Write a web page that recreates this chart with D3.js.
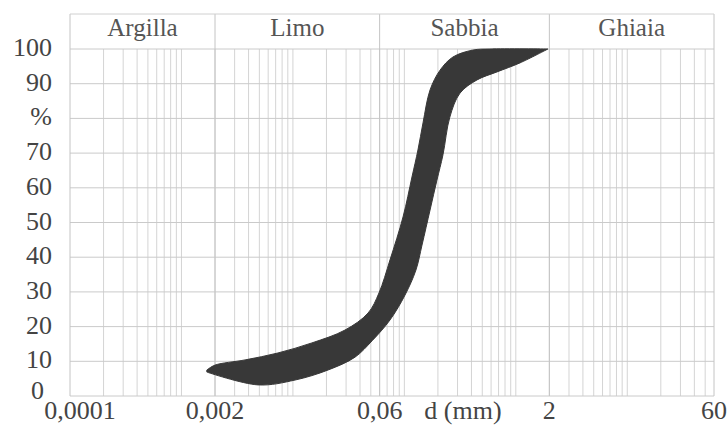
<!DOCTYPE html>
<html>
<head>
<meta charset="utf-8">
<script src="https://cdn.jsdelivr.net/npm/d3@7"></script>
<style>
  body { margin: 0; background: #fff; }
  svg { display: block; }
  .lbl { font-family: 'Liberation Serif', Tinos, 'Times New Roman', Times, 'DejaVu Serif', serif; font-size: 26px; fill: #444; }
  .head { font-family: 'Liberation Serif', Tinos, 'Times New Roman', Times, 'DejaVu Serif', serif; font-size: 25px; fill: #555; }
</style>
</head>
<body>
<svg id="chart" width="727" height="425"></svg>
<script>
// grain size classes (header) and their limits in mm
const classes = ['Argilla', 'Limo', 'Sabbia', 'Ghiaia'];
const classLimits = [0.0001, 0.002, 0.06, 2, 60];
const xTickLabels = ['0,0001', '0,002', '0,06', '2', '60'];

const yTicks = [0, 10, 20, 30, 40, 50, 60, 70, 80, 90, 100];
const yTickLabels = ['0', '10', '20', '30', '40', '50', '60', '70', '%', '90', '100'];

// band of grading curves: finer boundary (top/left edge)
const fineD = [0.00169, 0.0020, 0.00372, 0.00734, 0.0148, 0.0293, 0.0472, 0.0592, 0.0743, 0.0973, 0.117, 0.1324, 0.147, 0.170, 0.209, 0.273, 0.413, 0.586, 1.94];
const fineP = [7.5, 8.9, 10.4, 12.4, 15.3, 19.0, 23.9, 29.7, 39.2, 51.6, 63.1, 70.9, 78.7, 88.2, 93.9, 97.7, 99.7, 100, 100];

// coarser boundary (bottom/right edge)
const coarseD = [0.00169, 0.00486, 0.01045, 0.0207, 0.0361, 0.0513, 0.0743, 0.1014, 0.127, 0.144, 0.170, 0.196, 0.222, 0.256, 0.316, 0.449, 0.678, 1.09, 1.94];
const coarseP = [6.9, 3.2, 4.6, 7.5, 11.2, 15.9, 21.9, 29.1, 36.3, 43.5, 53.6, 62.2, 69.5, 80.4, 87.3, 91.1, 93.4, 96.0, 100];

const plotLeft = 70;
const plotRight = 714;
const plotTop = 49;
const plotBottom = 396;
const headTop = 14;

const xscale = d3.scaleLog()
  .domain([0.0001, 60])
  .range([plotLeft, plotRight]);

const yscale = d3.scaleLinear()
  .domain([0, 100])
  .range([plotBottom, plotTop]);

const svg = d3.select('#chart');

// minor log grid: 1..9 x 10^k
const minor = [];
for (let k = -4; k <= 1; k++) {
  for (let m = 1; m <= 9; m++) {
    const v = m * Math.pow(10, k);
    if (v > 0.0001 && v < 60) minor.push(v);
  }
}

const grid = svg.append('g');

grid.selectAll('line.v')
  .data(minor)
  .enter()
  .append('line')
  .attr('x1', (d) => xscale(d))
  .attr('x2', (d) => xscale(d))
  .attr('y1', plotTop)
  .attr('y2', plotBottom)
  .attr('stroke', '#d4d4d4')
  .attr('stroke-width', 1);

grid.selectAll('line.h')
  .data(yTicks)
  .enter()
  .append('line')
  .attr('x1', plotLeft)
  .attr('x2', plotRight)
  .attr('y1', (d) => yscale(d))
  .attr('y2', (d) => yscale(d))
  .attr('stroke', '#cacaca')
  .attr('stroke-width', 1);

// class limits run up through the header
grid.selectAll('line.c')
  .data(classLimits)
  .enter()
  .append('line')
  .attr('x1', (d) => xscale(d))
  .attr('x2', (d) => xscale(d))
  .attr('y1', headTop)
  .attr('y2', plotBottom)
  .attr('stroke', '#c4c4c4')
  .attr('stroke-width', 1);

grid.append('line')
  .attr('x1', plotLeft)
  .attr('x2', plotRight)
  .attr('y1', headTop)
  .attr('y2', headTop)
  .attr('stroke', '#d0d0d0');

// header labels
svg.append('g')
  .selectAll('text')
  .data(classes)
  .enter()
  .append('text')
  .attr('class', 'head')
  .attr('x', (d, i) => (xscale(classLimits[i]) + xscale(classLimits[i + 1])) / 2)
  .attr('y', 36)
  .attr('text-anchor', 'middle')
  .text((d) => d);

// the band
const line = d3.line()
  .x((d) => xscale(d[0]))
  .y((d) => yscale(d[1]))
  .curve(d3.curveCatmullRom);

const finePts = fineD.map((d, i) => [d, fineP[i]]);
const coarsePts = coarseD.map((d, i) => [d, coarseP[i]]).reverse();

svg.append('path')
  .attr('d', line(finePts) + line(coarsePts).replace(/^M/, 'L') + 'Z')
  .attr('fill', '#383838')
  .attr('stroke', '#383838')
  .attr('stroke-width', 1);

// y labels ("0" tucked left so it clears "0,0001")
svg.append('g')
  .selectAll('text')
  .data(yTicks)
  .enter()
  .append('text')
  .attr('class', 'lbl')
  .attr('x', (d) => d === 0 ? 44 : 52)
  .attr('y', (d) => yscale(d) + (d === 0 ? 3 : 7))
  .attr('text-anchor', 'end')
  .text((d, i) => yTickLabels[i]);

// x labels
svg.append('g')
  .selectAll('text')
  .data(classLimits)
  .enter()
  .append('text')
  .attr('class', 'lbl')
  .attr('x', (d, i) => xscale(d) + (i === 0 ? 10 : 0))
  .attr('y', 419)
  .attr('text-anchor', 'middle')
  .text((d, i) => xTickLabels[i]);

svg.append('text')
  .attr('class', 'lbl')
  .attr('x', 463)
  .attr('y', 419)
  .attr('text-anchor', 'middle')
  .text('d (mm)');
</script>
</body>
</html>
